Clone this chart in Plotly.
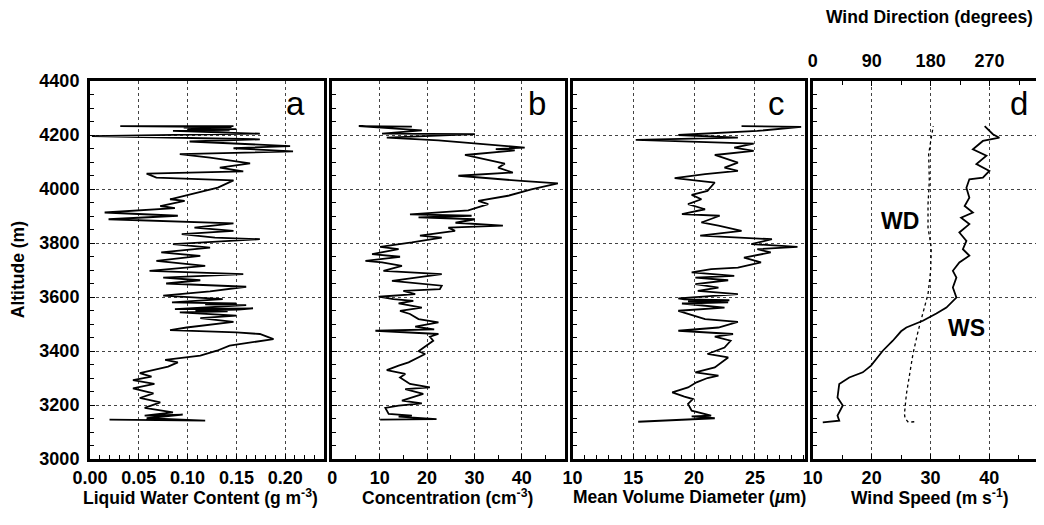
import plotly.graph_objects as go

# ---- data (altitude in m) ----
alt_a = [3146, 3142, 3151, 3164, 3161, 3173, 3189, 3210, 3226, 3243,
         3262, 3278, 3292, 3305, 3318, 3333, 3342, 3358, 3367, 3383,
         3401, 3420, 3432, 3444, 3463, 3469, 3477, 3487, 3508, 3522,
         3531, 3543, 3547, 3550, 3553, 3558, 3555, 3570, 3573, 3576,
         3580, 3592, 3605, 3621, 3638,
         3650, 3662, 3672, 3685, 3697, 3715, 3734, 3752, 3765, 3783,
         3796, 3814, 3820, 3833, 3845, 3857, 3873, 3888, 3901, 3913,
         3929, 3937, 3956, 3962, 3987, 4005, 4032, 4042, 4057, 4065,
         4079, 4095, 4116, 4129, 4139, 4151, 4159, 4176, 4184, 4196,
         4205, 4215, 4217, 4220, 4222, 4224, 4227, 4229, 4233, 4233]
lwc = [0.020, 0.118, 0.058, 0.095, 0.056, 0.085, 0.056, 0.072, 0.051, 0.065,
       0.044, 0.066, 0.044, 0.063, 0.051, 0.068, 0.080, 0.090, 0.077, 0.113,
       0.130, 0.143, 0.167, 0.188, 0.174, 0.150, 0.082, 0.099, 0.147, 0.113,
       0.150, 0.092, 0.141, 0.108, 0.152, 0.167, 0.087, 0.160, 0.118, 0.150,
       0.084, 0.136, 0.075, 0.123, 0.160,
       0.078, 0.113, 0.075, 0.157, 0.061, 0.118, 0.068, 0.113, 0.073, 0.123,
       0.085, 0.174, 0.128, 0.094, 0.147, 0.107, 0.147, 0.019, 0.090, 0.015,
       0.087, 0.072, 0.097, 0.082, 0.109, 0.131, 0.147, 0.068, 0.058, 0.157,
       0.133, 0.164, 0.123, 0.092, 0.208, 0.147, 0.205, 0.102, 0.174, 0.002,
       0.174, 0.085, 0.143, 0.100, 0.150, 0.110, 0.096, 0.145, 0.031, 0.147]

alt_b = [3146, 3148, 3157, 3161, 3167, 3189, 3198, 3206, 3216, 3241,
         3259, 3265, 3278, 3302, 3315, 3329, 3346, 3358, 3389, 3399,
         3438, 3453, 3463, 3475, 3480, 3490, 3506, 3518, 3537, 3549,
         3561, 3576, 3586, 3592, 3601, 3611, 3623, 3629, 3642, 3654,
         3660, 3685, 3697, 3715, 3728, 3734, 3749, 3759, 3777, 3786,
         3802, 3820, 3827, 3845, 3857, 3864, 3875, 3888, 3895, 3901,
         3906, 3921, 3944, 3956, 3975, 3999, 4021, 4030, 4049, 4061,
         4079, 4094, 4110, 4126, 4143, 4148, 4153, 4163, 4180, 4190, 4203,
         4205, 4217, 4233, 4231]
conc = [10.1, 22.0, 14.0, 16.8, 11.9, 11.2, 14.0, 18.9, 14.7, 19.2,
        15.4, 20.6, 16.4, 14.3, 15.4, 11.5, 14.0, 16.1, 19.6, 18.2,
        21.3, 20.6, 22.4, 9.1, 21.5, 17.5, 22.4, 18.2, 16.4, 14.3,
        18.9, 14.0, 17.1, 12.9, 9.8, 17.5, 15.0, 22.7, 23.1, 16.8,
        12.6, 23.1, 10.8, 14.7, 10.5, 7.0, 14.3, 8.4, 14.0, 10.1,
        16.8, 23.1, 18.5, 25.9, 24.5, 36.0, 26.0, 30.1, 18.2, 29.4,
        16.4, 28.7, 32.9, 30.8, 37.1, 42.0, 47.6, 39.9, 26.6, 38.1,
        35.0, 36.4, 32.2, 28.0, 38.5, 34.5, 40.6, 34.3, 22.4, 11.5, 30.1,
        10.5, 18.9, 5.6, 16.8]

alt_c = [3138, 3151, 3158, 3161, 3179, 3204, 3222, 3231, 3247, 3265,
         3284, 3300, 3309, 3321, 3339, 3376, 3389, 3413, 3438, 3453,
         3463, 3475, 3487, 3508, 3518, 3549, 3561, 3576, 3580, 3584,
         3588, 3591, 3595,
         3611, 3623, 3635, 3648, 3662, 3672, 3678, 3691, 3703, 3709,
         3728, 3746, 3765, 3777, 3786, 3796, 3814, 3827, 3845, 3864,
         3876, 3901, 3907, 3925, 3944, 3962, 3978, 3993, 4024, 4040,
         4055, 4067, 4079, 4098, 4126, 4141, 4153, 4168, 4182, 4190,
         4200, 4215, 4230, 4233]
mvd = [15.4, 21.7, 19.8, 21.4, 19.8, 19.5, 19.9, 19.2, 18.2, 19.5,
       20.2, 21.1, 22.0, 20.1, 21.7, 22.8, 21.1, 22.5, 23.0, 21.7,
       23.2, 18.7, 22.0, 23.6, 20.9, 18.7, 22.5, 19.0, 22.8, 19.5,
       22.9, 19.2, 18.7,
       23.6, 20.3, 22.0, 20.1, 22.8, 20.1, 23.3, 19.8, 21.4, 23.6,
       25.5, 24.1, 26.3, 25.2, 28.5, 24.7, 26.4, 20.5, 23.9, 22.0,
       20.6, 22.1, 19.0, 20.9, 19.5, 20.6, 19.8, 21.1, 21.7, 18.4,
       20.9, 23.6, 22.5, 23.6, 21.7, 24.9, 23.3, 24.9, 15.2, 23.6,
       18.7, 25.2, 28.8, 23.9]

alt_ws = [3136, 3142, 3161, 3198, 3228, 3278, 3302, 3321, 3346, 3401,
          3438, 3473, 3487, 3512, 3539, 3561, 3598, 3635, 3672, 3697,
          3728, 3753, 3777, 3808, 3839, 3870, 3894, 3913, 3937, 3968,
          4005, 4036, 4042, 4067, 4092, 4123, 4147, 4178, 4190, 4203, 4233]
ws = [11.7, 14.5, 14.2, 15.1, 14.2, 14.5, 16.2, 18.5, 19.9, 21.9,
      23.6, 25.0, 25.9, 28.7, 31.0, 32.7, 34.4, 33.8, 34.4, 33.8,
      34.9, 36.6, 35.5, 36.1, 34.9, 36.6, 35.2, 37.2, 35.8, 36.6,
      36.1, 36.6, 38.9, 40.0, 37.8, 39.5, 37.2, 38.9, 41.7, 40.6, 39.2]

alt_wd = [3138, 3136, 3150, 3167, 3241, 3315, 3389, 3475, 3537, 3611,
          3697, 3783, 3857, 3944, 4030, 4129, 4190, 4233]
wd = [155, 146, 141, 140, 143, 148, 153, 161, 168, 176,
      180, 181, 176, 176, 178, 177, 181, 184]

alt_ticks = [3000, 3200, 3400, 3600, 3800, 4000, 4200, 4400]

FONT = "Liberation Sans, Arial, sans-serif"
tickfont = dict(family=FONT, size=18, color="black", weight="bold")

fig = go.Figure()
line = dict(color="black", width=1.8)
fig.add_trace(go.Scatter(x=lwc, y=alt_a, xaxis="x", yaxis="y", mode="lines", line=line))
fig.add_trace(go.Scatter(x=conc, y=alt_b, xaxis="x2", yaxis="y2", mode="lines", line=line))
fig.add_trace(go.Scatter(x=mvd, y=alt_c, xaxis="x3", yaxis="y3", mode="lines", line=line))
fig.add_trace(go.Scatter(x=ws, y=alt_ws, xaxis="x4", yaxis="y4", mode="lines", line=line))
fig.add_trace(go.Scatter(x=wd, y=alt_wd, xaxis="x5", yaxis="y4", mode="lines",
                         line=dict(color="black", width=1.3, dash="dot")))


def xax(domain, rng, dtick, minor, anchor, fmt=None):
    d = dict(domain=domain, range=rng, dtick=dtick, tick0=0, anchor=anchor,
             showline=True, linewidth=3, linecolor="black", mirror=True,
             ticks="inside", ticklen=5, tickwidth=1.2, tickcolor="black",
             showgrid=True, gridcolor="#444", griddash="dot", gridwidth=1,
             zeroline=False, tickfont=tickfont,
             minor=dict(dtick=minor, ticks="inside", ticklen=4, tickcolor="black",
                        showgrid=False))
    if fmt:
        d["tickformat"] = fmt
    return d


def yax(anchor, labels):
    return dict(range=[3000, 4400], tickvals=alt_ticks, anchor=anchor,
                showline=True, linewidth=3, linecolor="black", mirror=True,
                ticks="inside", ticklen=5, tickwidth=1.2, tickcolor="black",
                showgrid=True, gridcolor="#444", griddash="dot", gridwidth=1,
                zeroline=False, showticklabels=labels, tickfont=tickfont,
                ticklabelstandoff=4,
                minor=dict(dtick=50, tick0=3000, ticks="inside", ticklen=4,
                           tickcolor="black", showgrid=False))


# page body adds an 8px offset, margins below are compensated for it
fig.update_layout(
    width=1036, height=517,
    margin=dict(l=82, r=1, t=73, b=66),
    paper_bgcolor="white", plot_bgcolor="white",
    showlegend=False,
    xaxis=xax([0.0, 0.2466], [0, 0.24], 0.05, 0.01, "y", ".2f"),
    xaxis2=xax([0.2550, 0.4995], [0, 49], 10, 5, "y2"),
    xaxis3=xax([0.5079, 0.7524], [10, 29.1], 5, 1, "y3"),
    xaxis4=xax([0.7608, 1.0], [10, 48.6], 10, 5, "y4"),
    xaxis5=dict(overlaying="x4", side="top", anchor="y4", range=[0, 347],
                tickvals=[0, 90, 180, 270], showgrid=False, showline=False,
                zeroline=False, ticks="inside", ticklen=5, tickcolor="black",
                tickfont=tickfont, ticklabelstandoff=9,
                minor=dict(dtick=45, ticks="inside", ticklen=4, tickcolor="black")),
    yaxis=yax("x", True),
    yaxis2=yax("x2", False),
    yaxis3=yax("x3", False),
    yaxis4=yax("x4", False),
)


def px(sx):
    return (sx - 90) / 953


def py(sy):
    return (459 - sy) / 378


title_font = dict(family=FONT, size=17.5, color="black", weight="bold")
titles = [("Liquid Water Content (g m<sup>-3</sup>)", 201),
          ("Concentration (cm<sup>-3</sup>)", 449),
          ("Mean Volume Diameter (<i>µ</i>m)", 691),
          ("Wind Speed (m s<sup>-1</sup>)", 933)]
for txt, sx in titles:
    fig.add_annotation(text=txt, x=px(sx), y=py(497), xref="paper", yref="paper",
                       showarrow=False, font=title_font, xanchor="center", yanchor="middle")

fig.add_annotation(text="Altitude (m)", x=px(18), y=py(270), xref="paper", yref="paper",
                   textangle=-90, showarrow=False, font=title_font,
                   xanchor="center", yanchor="middle")
fig.add_annotation(text="Wind Direction (degrees)", x=px(932), y=py(17), xref="paper",
                   yref="paper", showarrow=False, font=title_font,
                   xanchor="center", yanchor="middle")

letter_font = dict(family=FONT, size=33, color="black")
for lab, sx in [("a", 296), ("b", 538), ("c", 779), ("d", 1022)]:
    fig.add_annotation(text=lab, x=px(sx), y=py(104), xref="paper", yref="paper",
                       showarrow=False, font=letter_font, xanchor="center", yanchor="middle")

big = dict(family=FONT, size=23, color="black", weight="bold")
fig.add_annotation(text="WD", x=24.9, y=3881, xref="x4", yref="y4", showarrow=False, font=big)
fig.add_annotation(text="WS", x=36.1, y=3485, xref="x4", yref="y4", showarrow=False, font=big)

fig.write_html("out.html")
